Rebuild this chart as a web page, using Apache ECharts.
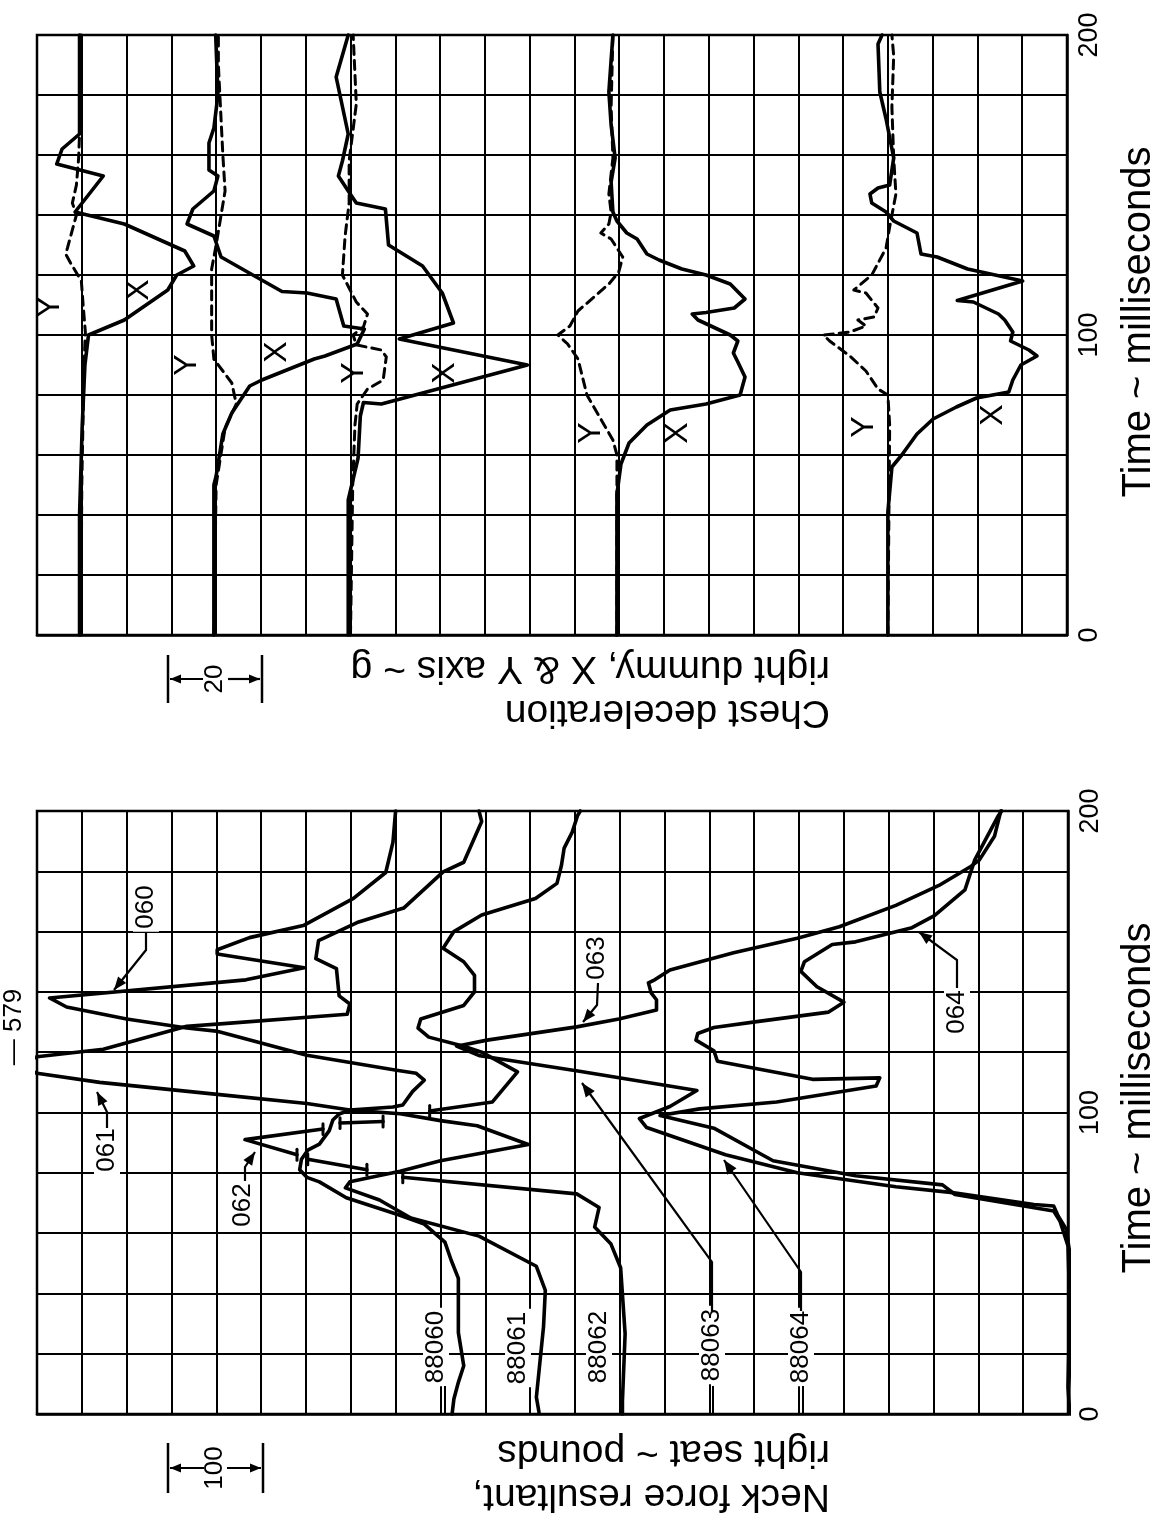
<!DOCTYPE html>
<html>
<head>
<meta charset="utf-8">
<script src="https://cdn.jsdelivr.net/npm/echarts/dist/echarts.min.js"></script>
<style>html,body{margin:0;padding:0;background:#fff}#c{width:1159px;height:1522px}</style>
</head>
<body>
<div id="c"></div>
<script>
// ---------- tick labels ----------
const TIME_TICK_LABELS = [0, 100, 200];

// ---------- Chest deceleration (g), pairs [time ms, g] ----------
const chestX060 = [[0,0],[40,0],[70,0.6],[90,1.2],[100,2],[105,10],[115,19.7],[120,21.7],[123,25.5],[128,23.5],[137,10],[141,-1],[153,5.3],[157,-5.1],[162,-3.9],[167,0],[200,0]];
const chestY060 = [[0,0.3],[50,0.5],[90,1],[101,1.3],[110,0.8],[118,0.4],[124,-2],[127,-3.1],[129,-2.7],[140,-0.7],[144,-1.6],[150,-0.7],[159,-0.2],[167,0],[200,0.4]];
const chestX061 = [[0,0],[50,0],[53,0.5],[67,2],[74,4],[83,8],[85,10.7],[92,22.4],[93,24.8],[97,32],[102,33.6],[103,29],[112,27.3],[114,20.8],[114.5,15.2],[126,1.6],[133,0],[137,-6],[142,-4.7],[148,0],[153,0.9],[155,-1.1],[164,-1.1],[169,0],[180,0.9],[200,0.4]];
const chestY061 = [[0,0],[50,0.5],[69,2.5],[77,5],[84,4],[92,0],[100,-0.5],[122,-0.5],[130,0.5],[148,2.5],[160,2],[175,1.5],[190,1],[200,1]];
const chestX062 = [[0,0],[45,0],[59,2.2],[73,2.7],[77.5,3.4],[77,7.4],[90,40],[98.7,11.4],[104,23.5],[114,21],[123,16.6],[130,9],[142,8.3],[144,1.8],[148,0],[153,-2.2],[158,-1.3],[167,0],[186,-2.7],[200,0]];
const chestY062 = [[0,0.5],[50,1],[70,1.5],[77,2],[82,4.3],[85,7.8],[92.7,8.5],[95,7.4],[96.7,1.8],[100,1.1],[102.7,3.4],[107,4.3],[111,1.8],[120,-1.3],[133,-0.7],[144,0.2],[158,0.2],[177,1.8],[200,1.1]];
const chestX063 = [[0,0],[47,0],[57,0.9],[64,2.7],[70,6.7],[75,11.9],[77,19.9],[80,27.5],[86,28.6],[91,27],[94,26],[98,27],[100,25.3],[105,18.1],[107,16.8],[107.5,19.9],[109,26.2],[112,28.6],[117,25.3],[120,19.9],[122,14.5],[125,9.4],[127,6.7],[132,4.5],[134,2.2],[138,0],[141,-0.9],[151,-1.3],[159,-0.4],[170,-1.3],[181,-1.8],[200,-0.9]];
const chestY063 = [[0,0],[60,0],[65,-0.9],[73,-4],[80,-6.7],[92,-8.7],[97,-11],[100,-13.2],[103,-10.5],[108,-8.7],[117,-1.8],[121,0.4],[126,1.3],[132,-1.3],[134,-3.6],[137,-1.8],[141,-1.3],[147,-1.8],[159,-0.9],[176,-1.3],[200,-0.9]];
const chestX064 = [[0,0],[41,0],[56,0.9],[60,3.1],[67,6.5],[72,10.1],[76,15.3],[79,19.8],[81,27],[85,27.9],[90,29.7],[93,33.3],[95,31.5],[98,27.4],[101,27.9],[105,26.1],[107,24.7],[111,19.1],[111.5,15.5],[118,30.1],[122,17.8],[126,11],[127,7.4],[134,6.5],[138,1.3],[141,-0.4],[144,-3.6],[147,-4],[149,-2.2],[150,0.4],[159,1.3],[172,-0.4],[181,-1.8],[197,-2.2],[200,-1.3]];
const chestY064 = [[0,0],[70,0.4],[80,0],[82,-2.2],[88,-4.9],[93,-8.5],[98,-13],[100,-14.4],[101,-8.5],[103,-4.9],[105,-6.7],[106,-3.1],[109,-2.2],[114,-4.9],[115,-7.6],[120,-3.6],[129,-0.4],[136,0.4],[147,1.8],[159,1.3],[176,0.9],[193,1.3],[200,0.9]];

// ---------- Neck force resultant (lb), pairs [time ms, lb] ----------
const neck060 = [[0,15],[5,13],[10.5,8],[16,2],[27,8],[45,8],[51,16],[57,23],[63,46],[66,74],[71.7,133],[77,163],[78.5,177],[81,185],[84.5,183],[87.5,176],[89.5,163],[94,152],[97.5,148],[99.5,141],[100.8,129],[101.8,81],[102.5,70],[107,59],[110.7,46],[113,55],[114,77],[119,177],[127,278],[128,311],[131,378],[135,445],[138,464],[144,245],[148,180],[152.6,277],[154,277],[158,241],[162,181],[171,125],[179.6,89],[189.6,81],[200,78]];
const neck061 = [[0.5,9],[5.6,12],[29,4],[41,2],[49,12],[59,76],[65,152],[71,187],[75,225],[77,220],[80.5,164],[84,119],[89.4,21],[95.6,78],[97.3,119],[99.6,164],[100.8,220],[103,268],[106,368],[110,499],[113,569],[115.5,590],[118.5,569],[121,495],[128.6,402],[129.3,368],[132.6,223],[136,220],[138.7,232],[147.7,235],[151,258],[157,255],[163,212],[167.8,160],[179.8,116],[183,93],[196.5,73],[200,76]];
// test 062 is recorded in broken pieces (data drop-outs)
const neck062Pieces = [
  [[0,5],[4.3,5],[26.6,2],[48.5,7],[56.5,18],[62,36],[68.5,31],[73,56],[78.5,250]],
  [[81,290],[84.5,356]],
  [[86,368],[91,426],[94.5,339]],
  [[96.5,320],[97,272]],
  [[100.5,220],[103.5,150],[113.5,122],[120,162],[122,182],[125,221],[128,233],[131,230],[135.5,182],[140,170],[145.5,170],[150,182],[154.5,205],[160,193],[165.5,162],[171,102],[176,78],[182,73],[187.7,70],[193,61],[198.5,55],[200,52]]
];
const neck063 = [[0,7],[4,6],[15.7,7],[53.3,9],[61.3,13],[65.7,22],[69,27],[69.5,49],[73.5,142],[75.4,203],[80,313],[86,393],[95,481],[98,489],[102,455],[107.3,425],[113.7,556],[118.8,667],[122,693],[124,659],[128.4,559],[131,512],[134,470],[137.4,470],[139.7,476],[143,479],[144,472],[147.3,455],[153,384],[157.8,313],[161.6,266],[168.7,203],[175.3,155],[181.7,119],[183.7,110],[191.6,93],[200,86]];
const neck064 = [[0,9],[9,11],[35.7,9],[55.7,11],[64,20],[67.3,27],[72.8,137],[76,151],[79,248],[84,340],[94.8,406],[99,466],[101.2,422],[103.5,336],[108.8,225],[111.5,221],[111,296],[117,402],[120.5,406],[124,426],[126.2,424],[128.2,406],[130.3,354],[133.3,278],[136.6,261],[141.7,291],[146.8,309],[150,305],[155.7,274],[156.6,248],[161.3,185],[165.3,160],[173.8,126],[183.8,115],[198.3,89],[200,85]];

// ---------- trace stacking (zero lines on the value axes) ----------
const CHEST_ZERO = [9.5, 39.5, 69.5, 129.5, 190];
const NECK_ZERO = {'060': 672, '061': 581, '062': 492, '063': -11, '064': -11};

const FONT = '"Liberation Sans", Arial, Helvetica, sans-serif';
const BLACK = '#000';

function line(data, idx, dashed) {
  return {
    type: 'line', xAxisIndex: idx, yAxisIndex: idx, data: data,
    symbol: 'none', showSymbol: false, clip: false, silent: true, animation: false,
    lineStyle: {color: BLACK, width: dashed ? 3 : 3.6, type: dashed ? [9, 6] : 'solid', cap: 'round', join: 'round'},
    z: 5
  };
}
const chestPlace = (pairs, zero) => pairs.map(([t, g]) => [zero + g, t]);
const neckPlace = (pairs, zero) => pairs.map(([t, f]) => [zero + f, t]);

const series = [];
[[chestX060, chestY060], [chestX061, chestY061], [chestX062, chestY062], [chestX063, chestY063], [chestX064, chestY064]]
  .forEach(([x, y], i) => {
    series.push(line(chestPlace(x, CHEST_ZERO[i]), 0, false));
    series.push(line(chestPlace(y, CHEST_ZERO[i]), 0, true));
  });
series.push(line(neckPlace(neck060, NECK_ZERO['060']), 1, false));
series.push(line(neckPlace(neck061, NECK_ZERO['061']), 1, false));
series.push(line(neckPlace(neck063, NECK_ZERO['063']), 1, false));
series.push(line(neckPlace(neck064, NECK_ZERO['064']), 1, false));
neck062Pieces.forEach((piece, i) => {
  series.push(line(neckPlace(piece, NECK_ZERO['062']), 1, false));
  // drop-out tick marks at the broken ends
  const ends = [];
  if (i > 0) ends.push(piece[0]);
  if (i < neck062Pieces.length - 1) ends.push(piece[piece.length - 1]);
  ends.forEach(([t, f]) => {
    const s = line([[NECK_ZERO['062'] + f, t - 1.8], [NECK_ZERO['062'] + f, t + 1.8]], 1, false);
    s.lineStyle.width = 3;
    series.push(s);
  });
});

function valueAxis(idx, max, interval, inverse) {
  return {
    type: 'value', gridIndex: idx, min: 0, max: max, interval: interval, inverse: inverse,
    axisLine: {show: true, onZero: false, lineStyle: {color: BLACK, width: 2.5}},
    axisTick: {show: false}, axisLabel: {show: false},
    splitLine: {show: true, lineStyle: {color: BLACK, width: 2}}
  };
}
function timeAxis(idx) {
  return {
    type: 'value', gridIndex: idx, position: 'right', min: 0, max: 200, interval: 20,
    axisLine: {show: true, onZero: false, lineStyle: {color: BLACK, width: 2.5}},
    axisTick: {show: false},
    axisLabel: {
      show: true, rotate: 90, margin: 9, color: BLACK, fontSize: 27, fontFamily: FONT,
      formatter: v => TIME_TICK_LABELS.includes(v) ? String(v) : ''
    },
    splitLine: {show: true, lineStyle: {color: BLACK, width: 2}}
  };
}

// ---------- annotation helpers ----------
function txt(x, y, text, size, rot, extra) {
  return {
    type: 'text', x: x, y: y, rotation: rot, z: 100,
    style: Object.assign({
      text: text, font: size + 'px ' + FONT, fill: BLACK,
      align: 'center', verticalAlign: 'middle', textAlign: 'center', textVerticalAlign: 'middle'
    }, extra || {})
  };
}
function poly(points, w) {
  return {type: 'polyline', z: 100, shape: {points: points}, style: {stroke: BLACK, lineWidth: w || 2, fill: null}};
}
function head(tip, from, size) {
  size = size || 12;
  const dx = tip[0] - from[0], dy = tip[1] - from[1];
  const L = Math.hypot(dx, dy) || 1, ux = dx / L, uy = dy / L;
  const bx = tip[0] - ux * size, by = tip[1] - uy * size;
  const nx = -uy * size * 0.4, ny = ux * size * 0.4;
  return {type: 'polygon', z: 100, shape: {points: [tip, [bx + nx, by + ny], [bx - nx, by - ny]]}, style: {fill: BLACK}};
}
function leader(points, size) {
  const n = points.length;
  return [poly(points, 2.2), head(points[n - 1], points[n - 2], size)];
}
const R90 = Math.PI / 2;
const upsideDown = {align: 'left', verticalAlign: 'middle', textAlign: 'left', textVerticalAlign: 'middle'};

const graphics = [
  // axis titles (time)
  txt(1139, 322, 'Time ~ milliseconds', 40, R90),
  txt(1139, 1098, 'Time ~ milliseconds', 40, R90),
  // value axis titles (printed upside down, flush at their start)
  txt(830, 712, 'Chest deceleration', 39, Math.PI, upsideDown),
  txt(830, 668, 'right dummy, X & Y axis ~ g', 39, Math.PI, upsideDown),
  txt(830, 1496, 'Neck force resultant,', 39, Math.PI, upsideDown),
  txt(830, 1452, 'right seat ~ pounds', 39, Math.PI, upsideDown),
  // scale bars
  poly([[168, 655], [168, 703]], 2.5), poly([[262, 655], [262, 703]], 2.5),
  txt(215, 679, '20', 26, R90),
  ...leader([[203, 679], [170, 679]], 11), ...leader([[228, 679], [260, 679]], 11),
  poly([[168, 1443], [168, 1493]], 2.5), poly([[263, 1443], [263, 1493]], 2.5),
  txt(215, 1468, '100', 26, R90),
  ...leader([[204, 1468], [170, 1468]], 11), ...leader([[227, 1468], [261, 1468]], 11),
];

// X / Y letters in the chest panel
[[50, 307], [187, 365], [354, 373], [591, 433], [864, 427]].forEach(p => graphics.push(txt(p[0], p[1], 'Y', 32, R90)));
[[139, 290], [277, 352], [445, 373], [678, 433], [993, 415]].forEach(p => graphics.push(txt(p[0], p[1], 'X', 32, R90)));

// neck panel labels
const whiteBg = {backgroundColor: '#fff', padding: [0, 3]};
graphics.push(
  txt(146, 907, '060', 26, R90, whiteBg),
  txt(107, 1150, '061', 26, R90, whiteBg),
  txt(243, 1205, '062', 26, R90, whiteBg),
  txt(597, 958, '063', 26, R90, whiteBg),
  txt(957, 1012, '064', 26, R90, whiteBg),
  txt(14, 1027, '\u2014 579', 26, R90),
  txt(436, 1347, '88060', 26, R90, whiteBg),
  txt(518, 1348, '88061', 26, R90, whiteBg),
  txt(599, 1347, '88062', 26, R90, whiteBg),
  txt(712, 1345, '88063', 26, R90, whiteBg),
  txt(801, 1347, '88064', 26, R90, whiteBg),
  ...leader([[146, 932], [146, 950], [114, 990]], 13),
  ...leader([[107, 1128], [107, 1112], [97, 1092]], 13),
  ...leader([[245, 1181], [245, 1167], [255, 1152]], 13),
  ...leader([[598, 983], [597, 1005], [583, 1022]], 13),
  ...leader([[957, 988], [957, 960], [919, 932]], 13),
  ...leader([[712, 1311], [712, 1262], [582, 1083]], 14),
  ...leader([[801, 1311], [801, 1272], [724, 1160]], 14),
  poly([[445, 1386], [445, 1413]], 2), poly([[713, 1386], [713, 1413]], 2), poly([[803, 1386], [803, 1413]], 2)
);

const chart = echarts.init(document.getElementById('c'), null, {renderer: 'canvas'});
chart.setOption({
  backgroundColor: '#fff',
  animation: false,
  grid: [
    {left: 37, top: 35, width: 1030, height: 600, show: true, borderColor: BLACK, borderWidth: 2.5, backgroundColor: 'rgba(0,0,0,0)'},
    {left: 37, top: 811, width: 1031, height: 603, show: true, borderColor: BLACK, borderWidth: 2.5, backgroundColor: 'rgba(0,0,0,0)'}
  ],
  xAxis: [valueAxis(0, 230, 10, false), valueAxis(1, 1150, 50, true)],
  yAxis: [timeAxis(0), timeAxis(1)],
  series: series,
  graphic: {elements: graphics}
});
</script>
</body>
</html>
